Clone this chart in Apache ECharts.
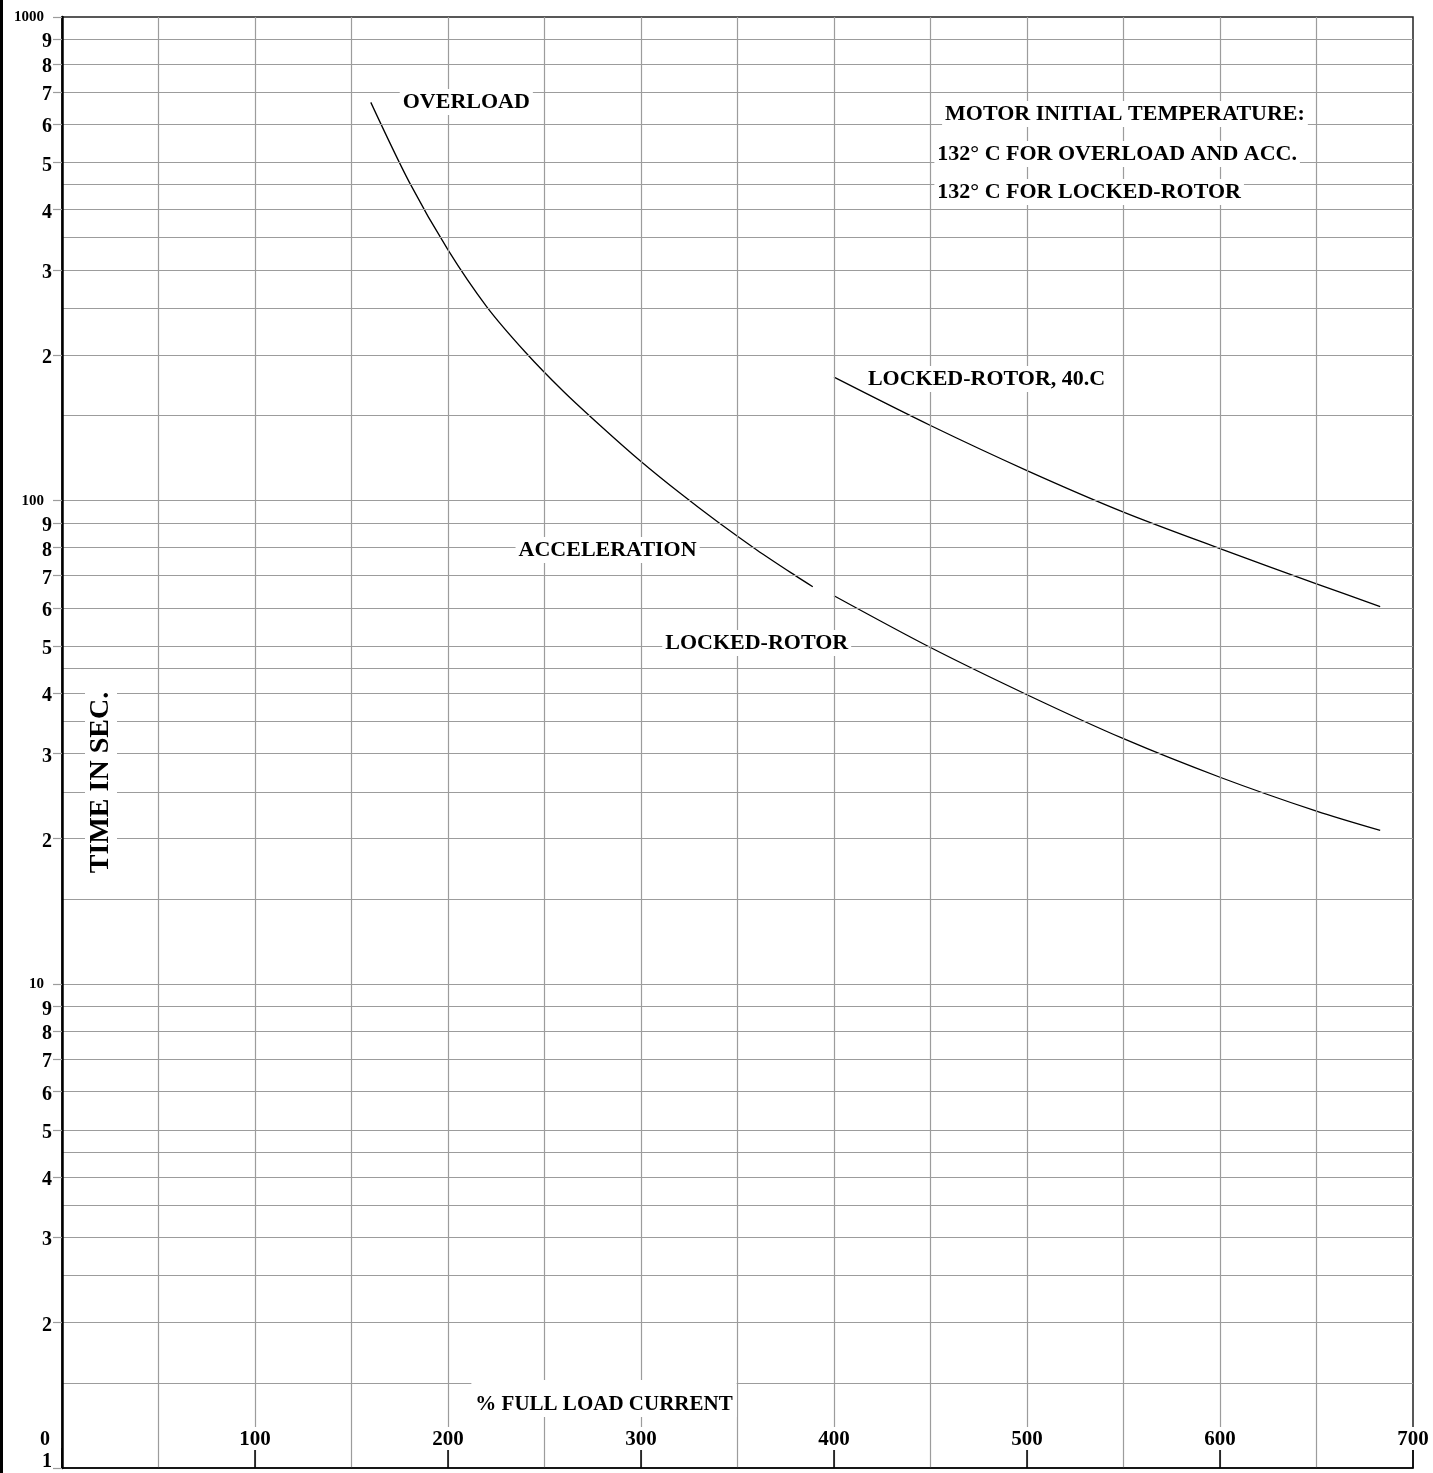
<!DOCTYPE html>
<html>
<head>
<meta charset="utf-8">
<script src="https://cdn.jsdelivr.net/npm/echarts@6/dist/echarts.min.js"></script>
<style>
html,body{margin:0;padding:0;background:#fff;}
#c{width:1433px;height:1473px;position:absolute;left:0;top:0;}
#frame{position:absolute;left:0;top:0;width:3px;height:1473px;background:#000;}
</style>
</head>
<body>
<div id="c"></div>
<div id="frame"></div>
<script>
// ---- axis ticks / labels ----
const xTickValues = [0, 100, 200, 300, 400, 500, 600, 700];
const xTickLabels = ['0', '100', '200', '300', '400', '500', '600', '700'];
const xGridValues = [50, 100, 150, 200, 250, 300, 350, 400, 450, 500, 550, 600, 650];

const yTickValues = [1, 2, 3, 4, 5, 6, 7, 8, 9,
                     10, 20, 30, 40, 50, 60, 70, 80, 90,
                     100, 200, 300, 400, 500, 600, 700, 800, 900, 1000];
const yTickLabels = ['1', '2', '3', '4', '5', '6', '7', '8', '9',
                     '10', '2', '3', '4', '5', '6', '7', '8', '9',
                     '100', '2', '3', '4', '5', '6', '7', '8', '9', '1000'];
const yGridValues = [1.5, 2, 2.5, 3, 3.5, 4, 4.5, 5, 6, 7, 8, 9,
                     10, 15, 20, 25, 30, 35, 40, 45, 50, 60, 70, 80, 90,
                     100, 150, 200, 250, 300, 350, 400, 450, 500, 600, 700, 800, 900];

// ---- curves (x = % full load current, y = time in sec) ----
const overloadX = [160, 180, 200, 220, 240, 260, 280, 300, 320, 340, 360, 380, 389];
const overloadY = [666, 455, 330, 252, 203, 168, 141.7, 120.5, 103.8, 90.2, 79.1, 70, 66.4];

const lockedX = [400, 450, 500, 550, 600, 650, 683];
const lockedY = [63.6, 49.7, 39.7, 32.2, 26.8, 22.8, 20.8];

const locked40X = [400, 450, 500, 550, 600, 650, 683];
const locked40Y = [180, 143, 115.4, 94.7, 79.6, 67.3, 60.4];

// ---- annotations ----
const annoText = ['OVERLOAD', 'MOTOR INITIAL TEMPERATURE:', '132° C FOR OVERLOAD AND ACC.',
                  '132° C FOR LOCKED-ROTOR', 'LOCKED-ROTOR, 40.C', 'ACCELERATION', 'LOCKED-ROTOR'];
const annoX = [175, 456, 452, 452, 416, 235, 311];
const annoY = [667, 630, 521, 434.6, 178.5, 79.1, 50.8];

const xName = '% FULL LOAD CURRENT';
const yName = 'TIME IN SEC.';

const FONT = '"Liberation Serif", "Times New Roman", serif';
const GRID_COLOR = '#9c9c9c';

function zip(a, b) { return a.map((v, i) => [v, b[i]]); }

const chart = echarts.init(document.getElementById('c'), null, { renderer: 'canvas' });

const curveStyle = { color: '#000', width: 1.3 };

const option = {
  backgroundColor: '#fff',
  animation: false,
  grid: {
    left: 62, right: 20, top: 17, bottom: 5,
    show: true, borderColor: '#222', borderWidth: 1.5,
    containLabel: false, outerBoundsMode: 'none'
  },
  xAxis: {
    type: 'value', min: 0, max: 700, interval: 100,
    position: 'bottom', z: 6,
    name: '{t|' + xName + '}{g| }',
    nameLocation: 'middle', nameGap: -88,
    nameTextStyle: {
      rich: {
        t: { fontFamily: FONT, fontWeight: 'bold', fontSize: 21, color: '#000',
             backgroundColor: '#fff', padding: [14, 4, 2, 4] },
        g: { width: 267 }
      }
    },
    axisLine: { show: true, lineStyle: { color: '#000', width: 1.5 } },
    axisTick: { show: true, inside: true, length: 20, lineStyle: { color: '#000', width: 1.5 } },
    axisLabel: {
      show: true, inside: true, margin: 18,
      alignMinLabel: 'right',
      formatter: function (v) {
        const i = xTickValues.indexOf(Math.round(v));
        const s = i >= 0 ? xTickLabels[i] : String(v);
        return v === 0 ? '{z|' + s + '}' : '{n|' + s + '}';
      },
      rich: {
        n: { fontFamily: FONT, fontWeight: 'bold', fontSize: 21, color: '#000',
             backgroundColor: '#fff', padding: [2, 1, 0, 1] },
        z: { fontFamily: FONT, fontWeight: 'bold', fontSize: 20, color: '#000',
             padding: [0, 12, 0, 0] }
      }
    },
    splitLine: { show: false }
  },
  yAxis: {
    type: 'log', logBase: 10, min: 1, max: 1000, position: 'left', z: 6,
    name: '{t|' + yName + '}{g| }',
    nameLocation: 'middle', nameRotate: 90, nameGap: -55,
    nameTextStyle: {
      rich: {
        t: { fontFamily: FONT, fontWeight: 'bold', fontSize: 28, color: '#000',
             backgroundColor: '#fff', padding: [2, 4, 2, 4] },
        g: { width: 80 }
      }
    },
    axisLine: { show: true, lineStyle: { color: '#000', width: 2.5 } },
    axisTick: { show: true, length: 9, customValues: yTickValues,
                lineStyle: { color: GRID_COLOR, width: 1.2 } },
    axisLabel: {
      show: true, margin: 10, customValues: yTickValues,
      formatter: function (v) {
        let best = 0, bd = Infinity;
        yTickValues.forEach((t, i) => { const d = Math.abs(Math.log10(t) - Math.log10(v)); if (d < bd) { bd = d; best = i; } });
        const s = yTickLabels[best];
        if (best === 0) return '{b|' + s + '}';
        return (s.length > 1) ? '{s|' + s + '}' : '{d|' + s + '}';
      },
      rich: {
        d: { fontFamily: FONT, fontWeight: 'bold', fontSize: 20, color: '#000', padding: [6, 0, 0, 0] },
        b: { fontFamily: FONT, fontWeight: 'bold', fontSize: 20, color: '#000', padding: [0, 0, 12, 0] },
        s: { fontFamily: FONT, fontWeight: 'bold', fontSize: 15, color: '#000', padding: [0, 8, 0, 0] }
      }
    },
    splitLine: { show: false }
  },
  series: [
    {
      name: 'grid', type: 'line', data: [], z: 1, silent: true,
      markLine: {
        silent: true, symbol: ['none', 'none'], animation: false,
        label: { show: false },
        lineStyle: { color: GRID_COLOR, width: 1.2, type: 'solid' },
        emphasis: { disabled: true },
        data: yGridValues.map(v => ({ yAxis: v })).concat(xGridValues.map(v => ({ xAxis: v })))
      }
    },
    {
      name: 'OVERLOAD / ACCELERATION', type: 'line', z: 3, smooth: 0.3,
      symbol: 'none', lineStyle: curveStyle,
      data: zip(overloadX, overloadY)
    },
    {
      name: 'LOCKED-ROTOR', type: 'line', z: 3, smooth: 0.3,
      symbol: 'none', lineStyle: curveStyle,
      data: zip(lockedX, lockedY)
    },
    {
      name: 'LOCKED-ROTOR, 40.C', type: 'line', z: 3, smooth: 0.3,
      symbol: 'none', lineStyle: curveStyle,
      data: zip(locked40X, locked40Y)
    },
    {
      name: 'labels', type: 'scatter', z: 8, symbolSize: 0, silent: true,
      itemStyle: { opacity: 1 },
      data: annoText.map((t, i) => ({ name: t, value: [annoX[i], annoY[i]] })),
      label: {
        show: true, position: 'right', distance: 0, formatter: '{b}',
        fontFamily: FONT, fontWeight: 'bold', fontSize: 22, color: '#000',
        backgroundColor: '#fff', padding: [2, 3, 2, 3]
      }
    }
  ]
};
chart.setOption(option);
</script>
</body>
</html>
